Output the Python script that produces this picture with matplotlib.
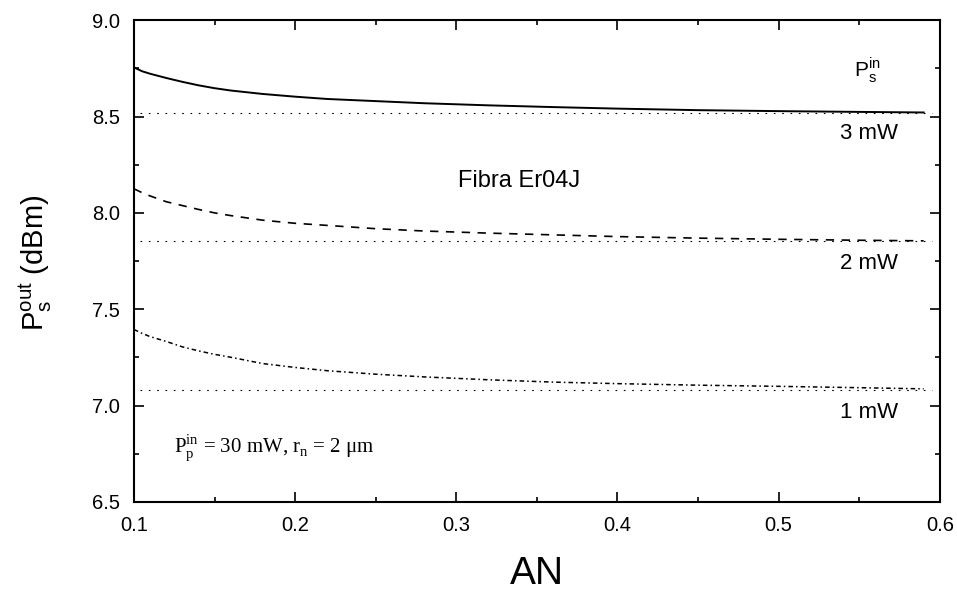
"""
Potencia de salida da señal vs. AN (Fibra Er04J)
"""

import matplotlib
matplotlib.use("Agg")
import matplotlib.pyplot as plt
from matplotlib.ticker import MultipleLocator

plt.rcParams["font.family"] = ["Liberation Sans", "DejaVu Sans"]

# datos
an = [0.10, 0.105, 0.11, 0.12, 0.13, 0.14, 0.15, 0.16, 0.18, 0.20,
      0.22, 0.25, 0.28, 0.32, 0.36, 0.40, 0.45, 0.50, 0.55, 0.59]
p_3mw = [8.755, 8.735, 8.722, 8.700, 8.680, 8.662, 8.647, 8.635, 8.617, 8.603,
         8.591, 8.580, 8.569, 8.558, 8.549, 8.541, 8.533, 8.528, 8.524, 8.521]
p_2mw = [8.125, 8.105, 8.088, 8.058, 8.038, 8.018, 8.000, 7.986, 7.962, 7.946,
         7.935, 7.918, 7.906, 7.895, 7.886, 7.877, 7.869, 7.863, 7.858, 7.855]
p_1mw = [7.395, 7.375, 7.358, 7.333, 7.305, 7.284, 7.266, 7.251, 7.218, 7.198,
         7.181, 7.163, 7.149, 7.134, 7.122, 7.114, 7.106, 7.100, 7.093, 7.087]
# niveis asintóticos (liñas punteadas)
ref_x = [0.104, 0.595]
ref_levels = [8.52, 7.855, 7.08]
labels_mw = ["3 mW", "2 mW", "1 mW"]
label_y = [8.41, 7.737, 6.964]

fig = plt.figure(figsize=(9.57, 5.93), dpi=100)
ax = fig.add_axes([0.14, 0.1535, 0.842, 0.8125])

ax.plot(an, p_3mw, color="black", lw=1.4, ls="-")
ax.plot(an, p_2mw, color="black", lw=1.2, ls=(0, (5, 4.5)))
ax.plot(an, p_1mw, color="black", lw=1.1, ls=(0, (3, 2, 1, 2)))
for lvl in ref_levels:
    ax.plot(ref_x, [lvl, lvl], color="black", lw=0.8, ls=(0, (1.5, 6)))

for txt, y in zip(labels_mw, label_y):
    ax.text(0.556, y, txt, ha="center", va="center", fontsize=16)

ax.text(0.555, 8.74, r"P$_\mathregular{s}^\mathregular{in}$",
        ha="center", va="center", fontsize=15)
ax.text(0.339, 8.167, "Fibra Er04J", ha="center", va="center", fontsize=17)
ax.text(0.125, 6.78,
        r"P$_\mathregular{p}^\mathregular{in}$ = 30 mW, r$_\mathregular{n}$ = 2 μm",
        ha="left", va="center", fontsize=15,
        family=["Liberation Serif", "DejaVu Serif"])

ax.set_xlim(0.1, 0.6)
ax.set_ylim(6.5, 9.0)
ax.xaxis.set_major_locator(MultipleLocator(0.1))
ax.xaxis.set_minor_locator(MultipleLocator(0.05))
ax.yaxis.set_major_locator(MultipleLocator(0.5))
ax.yaxis.set_minor_locator(MultipleLocator(0.25))
ax.xaxis.set_major_formatter(plt.FormatStrFormatter("%.1f"))
ax.yaxis.set_major_formatter(plt.FormatStrFormatter("%.1f"))
ax.tick_params(which="both", direction="in", top=True, right=True,
               width=1.2, labelsize=14.5, pad=10)
ax.tick_params(which="major", length=7)
ax.tick_params(which="minor", length=3.5)
for sp in ax.spines.values():
    sp.set_linewidth(1.5)

fig.text(0.561, 0.032, "AN", ha="center", va="center", fontsize=28)
fig.text(0.037, 0.557, r"P$_\mathregular{s}^\mathregular{out}$ (dBm)",
         ha="center", va="center", rotation=90, fontsize=21)

fig.savefig("out.png", dpi=100)
